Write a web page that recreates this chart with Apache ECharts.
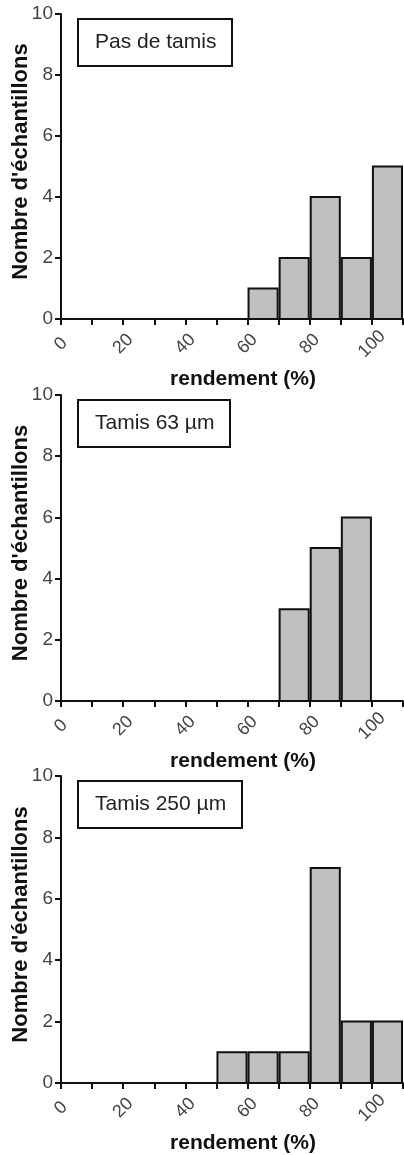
<!DOCTYPE html>
<html style="height: 100%">
<head>
    <meta charset="utf-8">
    <script type="text/javascript" src="https://fastly.jsdelivr.net/npm/echarts@6/dist/echarts.min.js"></script>
</head>
<body style="height: 100%; margin: 0; background: #fff">
<div id="container" style="width: 404px; height: 1155px"></div>
<script type="text/javascript">
    // histogram data: start of each 10% bin and count of samples
    var binWidth = 10;
    var titles = ['Pas de tamis', 'Tamis 63 µm', 'Tamis 250 µm'];
    var binStarts1 = [60, 70, 80, 90, 100];
    var counts1 = [1, 2, 4, 2, 5];
    var binStarts2 = [70, 80, 90];
    var counts2 = [3, 5, 6];
    var binStarts3 = [50, 60, 70, 80, 90, 100];
    var counts3 = [1, 1, 1, 7, 2, 2];
    var xTickLabels = [0, 20, 40, 60, 80, 100];
    var yTicks = [0, 2, 4, 6, 8, 10];

    var font = '"Liberation Sans", Arial, sans-serif';
    var dark = '#111';

    var dom = document.getElementById('container');
    var myChart = echarts.init(dom, null, {renderer: 'canvas'});

    var panels = [
        {starts: binStarts1, counts: counts1, top: 14, height: 305},
        {starts: binStarts2, counts: counts2, top: 395, height: 306},
        {starts: binStarts3, counts: counts3, top: 776, height: 307}
    ];

    function renderBin(params, api) {
        var x0 = api.value(0);
        var y = api.value(1);
        var p0 = api.coord([x0, 0]);
        var p1 = api.coord([x0 + binWidth, y]);
        return {
            type: 'rect',
            shape: {x: p0[0] + 1, y: p1[1], width: p1[0] - p0[0] - 2, height: p0[1] - p1[1]},
            style: {fill: '#c0c0c0', stroke: dark, lineWidth: 2}
        };
    }

    var grid = [], xAxis = [], yAxis = [], series = [], title = [];
    panels.forEach(function (p, i) {
        grid.push({left: 61, width: 342, top: p.top, height: p.height, containLabel: false, outerBoundsMode: 'none'});
        xAxis.push({
            type: 'value', gridIndex: i, min: 0, max: 110, interval: 10,
            splitLine: {show: false},
            axisLine: {lineStyle: {color: dark, width: 2}},
            axisTick: {length: 6, lineStyle: {color: dark, width: 2}},
            axisLabel: {
                rotate: 45, align: 'center', verticalAlign: 'middle', margin: 25,
                fontFamily: font, fontSize: 18, color: '#444',
                formatter: function (v) {
                    return xTickLabels.indexOf(v) >= 0 ? String(v) : '';
                }
            },
            name: 'rendement (%)', nameLocation: 'middle', nameGap: 50, nameMoveOverlap: false,
            nameTextStyle: {fontFamily: font, fontSize: 21, fontWeight: 'bold', color: dark, padding: [0, 0, 0, 22]}
        });
        yAxis.push({
            type: 'value', gridIndex: i, min: yTicks[0], max: yTicks[yTicks.length - 1], interval: 2,
            splitLine: {show: false},
            axisLine: {show: true, lineStyle: {color: dark, width: 2}},
            axisTick: {show: true, length: 6, lineStyle: {color: dark, width: 2}},
            axisLabel: {margin: 8, fontFamily: font, fontSize: 19, color: '#444'},
            name: "Nombre d'échantillons", nameLocation: 'middle', nameGap: 29, nameMoveOverlap: false,
            nameTextStyle: {fontFamily: font, fontSize: 22, fontWeight: 'bold', color: dark, padding: [0, 0, 0, 10]}
        });
        series.push({
            type: 'custom', xAxisIndex: i, yAxisIndex: i,
            renderItem: renderBin,
            encode: {x: 0, y: 1},
            data: p.starts.map(function (s, k) { return [s, p.counts[k]]; })
        });
        title.push({
            text: titles[i], left: 78, top: p.top + 5,
            padding: [13, 16, 13, 17],
            borderColor: dark, borderWidth: 2, backgroundColor: '#fff',
            textStyle: {fontFamily: font, fontSize: 21, fontWeight: 'normal', color: '#222'}
        });
    });

    var option = {
        animation: false,
        title: title,
        grid: grid,
        xAxis: xAxis,
        yAxis: yAxis,
        series: series
    };

    myChart.setOption(option);
    window.addEventListener('resize', myChart.resize);
</script>
</body>
</html>
